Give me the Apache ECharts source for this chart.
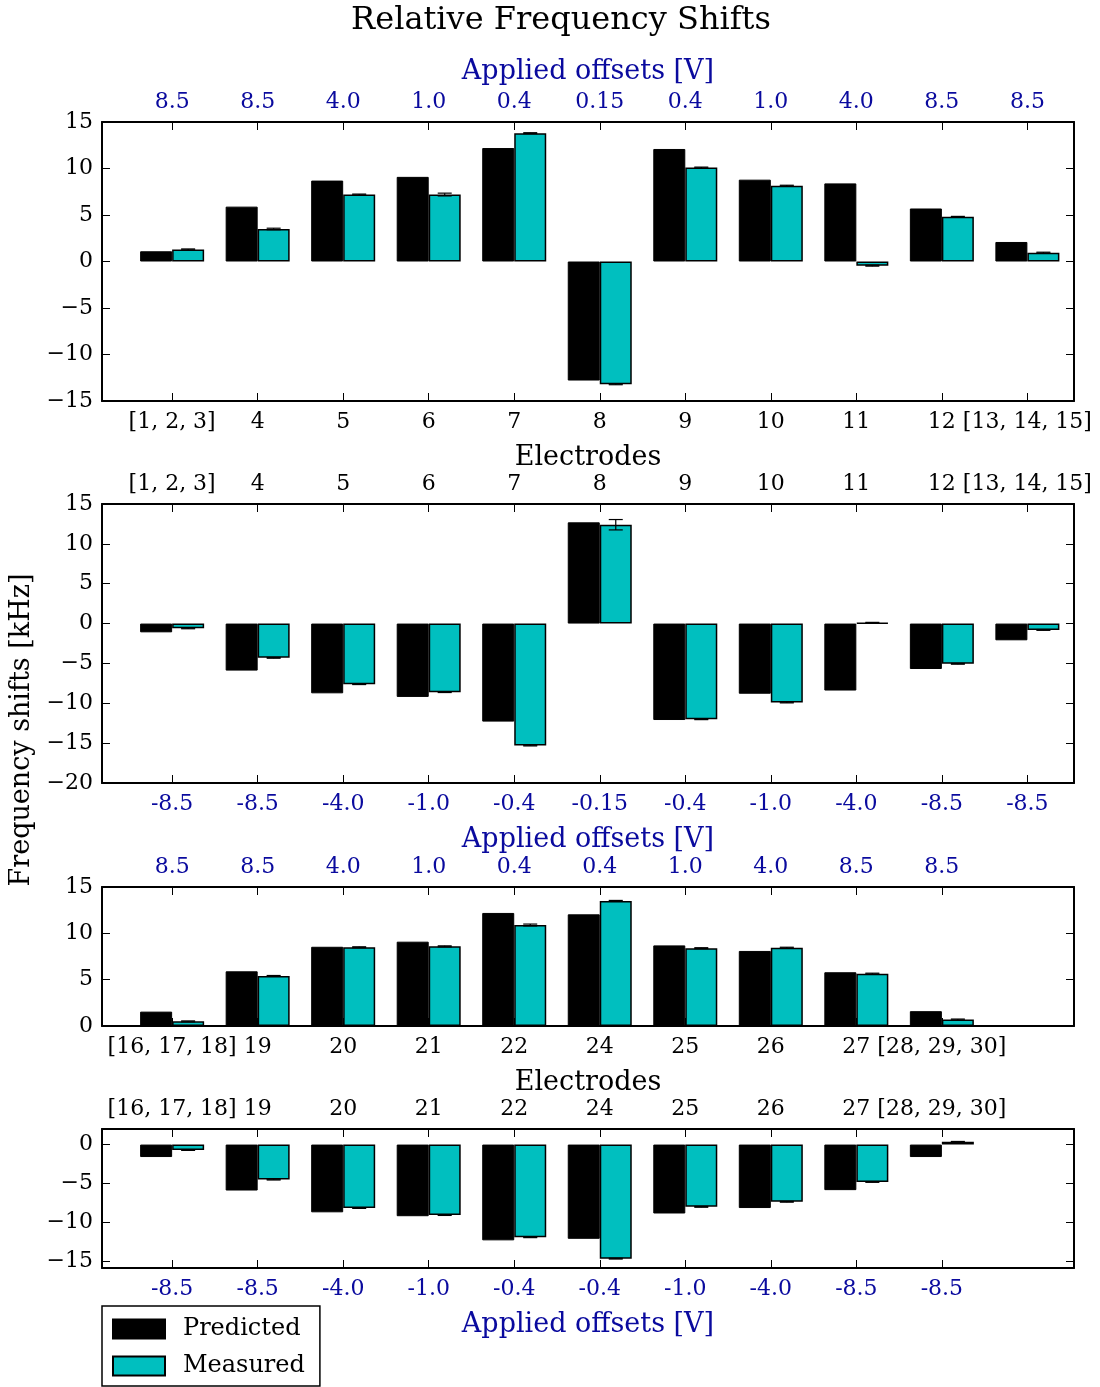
<!DOCTYPE html>
<html>
<head>
<meta charset="utf-8">
<script src="https://cdn.jsdelivr.net/npm/echarts@6/dist/echarts.min.js"></script>
<style>
  html, body { margin: 0; padding: 0; background: #fff; }
  #chart { width: 1100px; height: 1387px; }
</style>
</head>
<body>
<div id="chart"></div>
<script>
// Electrode groups (upper half: electrodes 1-15, lower half: 16-30)
const electrodesA = ['[1, 2, 3]', '4', '5', '6', '7', '8', '9', '10', '11', '12', '[13, 14, 15]'];
const electrodesB = ['[16, 17, 18]', '19', '20', '21', '22', '24', '25', '26', '27', '[28, 29, 30]'];

// Applied offset voltages per electrode group
const offsetsPosA = ['8.5', '8.5', '4.0', '1.0', '0.4', '0.15', '0.4', '1.0', '4.0', '8.5', '8.5'];
const offsetsNegA = ['-8.5', '-8.5', '-4.0', '-1.0', '-0.4', '-0.15', '-0.4', '-1.0', '-4.0', '-8.5', '-8.5'];
const offsetsPosB = ['8.5', '8.5', '4.0', '1.0', '0.4', '0.4', '1.0', '4.0', '8.5', '8.5'];
const offsetsNegB = ['-8.5', '-8.5', '-4.0', '-1.0', '-0.4', '-0.4', '-1.0', '-4.0', '-8.5', '-8.5'];

// Frequency shifts [kHz], positive offsets, electrodes 1-15
const predPosA = [1.1, 5.9, 8.7, 9.1, 12.2, -12.8, 12.1, 8.8, 8.4, 5.7, 2.1];
const measPosA = [1.3, 3.5, 7.2, 7.2, 13.8, -13.2, 10.1, 8.15, -0.45, 4.8, 0.95];
const errPosA  = [0.05, 0.08, 0.05, 0.15, 0.05, 0.05, 0.05, 0.05, 0.05, 0.05, 0.05];

// Negative offsets, electrodes 1-15
const predNegA = [-1.1, -5.9, -8.75, -9.2, -12.3, 12.7, -12.1, -8.8, -8.4, -5.7, -2.1];
const measNegA = [-0.6, -4.3, -7.6, -8.6, -15.3, 12.4, -12.0, -9.9, 0.1, -5.05, -0.8];
const errNegA  = [0.05, 0.05, 0.05, 0.05, 0.05, 0.65, 0.05, 0.05, 0.05, 0.05, 0.05];

// Positive offsets, electrodes 16-30
const predPosB = [1.55, 5.9, 8.55, 9.1, 12.2, 12.05, 8.7, 8.1, 5.8, 1.6];
const measPosB = [0.5, 5.4, 8.5, 8.6, 10.9, 13.5, 8.4, 8.45, 5.65, 0.7];
const errPosB  = [0.05, 0.05, 0.05, 0.05, 0.1, 0.05, 0.05, 0.05, 0.05, 0.05];

// Negative offsets, electrodes 16-30
const predNegB = [-1.6, -5.9, -8.7, -9.2, -12.3, -12.1, -8.85, -8.15, -5.85, -1.6];
const measNegB = [-0.7, -4.5, -8.15, -9.05, -11.9, -14.65, -8.0, -7.35, -4.8, 0.35];
const errNegB  = [0.05, 0.05, 0.05, 0.05, 0.05, 0.05, 0.05, 0.05, 0.05, 0.05];

// y tick values per panel
const yTicksPosA = [-15, -10, -5, 0, 5, 10, 15];
const yTicksNegA = [-20, -15, -10, -5, 0, 5, 10, 15];
const yTicksPosB = [0, 5, 10, 15];
const yTicksNegB = [-15, -10, -5, 0];

const FONT = 'DejaVu Serif';
const BLUE = '#0a0a9e';
const CYAN = '#00bfbf';
const BAR_W = 32;
const TICK_FS = 22;
const NAME_FS = 27;

const panels = [
  { top: 122, height: 279, ymin: -15, ymax: 15, yTicks: yTicksPosA,
    bottomLabels: electrodesA, bottomColor: '#000', bottomName: 'Electrodes', bottomNameColor: '#000',
    topLabels: offsetsPosA, topColor: BLUE, topName: 'Applied offsets [V]',
    pred: predPosA, meas: measPosA, err: errPosA },
  { top: 504, height: 279, ymin: -20, ymax: 15, yTicks: yTicksNegA,
    bottomLabels: offsetsNegA, bottomColor: BLUE, bottomName: 'Applied offsets [V]', bottomNameColor: BLUE,
    topLabels: electrodesA, topColor: '#000', topName: '',
    pred: predNegA, meas: measNegA, err: errNegA },
  { top: 887, height: 139, ymin: 0, ymax: 15, yTicks: yTicksPosB,
    bottomLabels: electrodesB, bottomColor: '#000', bottomName: 'Electrodes', bottomNameColor: '#000',
    topLabels: offsetsPosB, topColor: BLUE, topName: '',
    pred: predPosB, meas: measPosB, err: errPosB },
  { top: 1129, height: 139, ymin: -15.85, ymax: 2, yTicks: yTicksNegB,
    bottomLabels: offsetsNegB, bottomColor: BLUE, bottomName: 'Applied offsets [V]', bottomNameColor: BLUE,
    topLabels: electrodesB, topColor: '#000', topName: '',
    pred: predNegB, meas: measNegB, err: errNegB }
];

const X_MIN = -0.82;
const X_MAX = 10.545;

const frameLine = { show: true, onZero: false, lineStyle: { color: '#000', width: 2 } };
const tickStyle = (values) => ({ show: true, inside: true, length: 8, customValues: values,
  lineStyle: { color: '#000', width: 1 } });

const grid = [], xAxis = [], yAxis = [], series = [];

panels.forEach((p, i) => {
  grid.push({ left: 102, width: 972, top: p.top, height: p.height, containLabel: false });
  const idx = p.pred.map((_, k) => k);

  // bottom x axis
  xAxis.push({
    type: 'value', gridIndex: i, position: 'bottom', min: X_MIN, max: X_MAX,
    axisLine: frameLine, axisTick: tickStyle(idx), splitLine: { show: false },
    axisLabel: { customValues: idx, formatter: (v) => p.bottomLabels[Math.round(v)] ?? '',
      color: p.bottomColor, fontFamily: FONT, fontSize: TICK_FS, margin: 10, hideOverlap: false },
    name: p.bottomName, nameLocation: 'middle', nameGap: 43,
    nameTextStyle: { fontFamily: FONT, fontSize: NAME_FS, color: p.bottomNameColor }
  });
  // top x axis
  xAxis.push({
    type: 'value', gridIndex: i, position: 'top', min: X_MIN, max: X_MAX,
    axisLine: frameLine, axisTick: tickStyle(idx), splitLine: { show: false },
    axisLabel: { customValues: idx, formatter: (v) => p.topLabels[Math.round(v)] ?? '',
      color: p.topColor, fontFamily: FONT, fontSize: TICK_FS, margin: 9, hideOverlap: false },
    name: p.topName, nameLocation: 'middle', nameGap: 37,
    nameTextStyle: { fontFamily: FONT, fontSize: NAME_FS, color: BLUE }
  });
  // left y axis
  yAxis.push({
    type: 'value', gridIndex: i, position: 'left', min: p.ymin, max: p.ymax,
    axisLine: frameLine, axisTick: tickStyle(p.yTicks), splitLine: { show: false },
    axisLabel: { customValues: p.yTicks, formatter: (v) => String(v).replace('-', '\u2212'),
      color: '#000', fontFamily: FONT, fontSize: TICK_FS, margin: 9 }
  });
  // right y axis (ticks only)
  yAxis.push({
    type: 'value', gridIndex: i, position: 'right', min: p.ymin, max: p.ymax,
    axisLine: frameLine, axisTick: tickStyle(p.yTicks), splitLine: { show: false },
    axisLabel: { show: false }
  });

  const xa = i * 2, ya = i * 2;
  series.push({
    name: 'Predicted', type: 'bar', xAxisIndex: xa, yAxisIndex: ya,
    barWidth: BAR_W, barGap: '0%',
    itemStyle: { color: '#000', borderColor: '#000', borderWidth: 1 },
    data: p.pred.map((v, k) => [k, v])
  });
  series.push({
    name: 'Measured', type: 'bar', xAxisIndex: xa, yAxisIndex: ya,
    barWidth: BAR_W, barGap: '0%',
    itemStyle: { color: CYAN, borderColor: '#000', borderWidth: 1.5 },
    data: p.meas.map((v, k) => [k, v])
  });
  // error bars on the measured bars
  series.push({
    name: 'Measured error', type: 'custom', xAxisIndex: xa, yAxisIndex: ya, z: 5,
    encode: { x: 0, y: 1 },
    data: p.meas.map((v, k) => [k, v, p.err[k]]),
    renderItem: (params, api) => {
      const x = api.value(0), v = api.value(1), e = api.value(2);
      const hi = api.coord([x, v + e]);
      const lo = api.coord([x, v - e]);
      const cx = hi[0] + BAR_W / 2;
      const cap = 7;
      const st = { stroke: '#000', lineWidth: 1.2 };
      return { type: 'group', children: [
        { type: 'line', shape: { x1: cx, y1: hi[1], x2: cx, y2: lo[1] }, style: st },
        { type: 'line', shape: { x1: cx - cap, y1: hi[1], x2: cx + cap, y2: hi[1] }, style: st },
        { type: 'line', shape: { x1: cx - cap, y1: lo[1], x2: cx + cap, y2: lo[1] }, style: st }
      ]};
    }
  });
});

const chart = echarts.init(document.getElementById('chart'), null, { renderer: 'canvas' });
chart.setOption({
  animation: false,
  backgroundColor: '#fff',
  title: {
    text: 'Relative Frequency Shifts', left: 556, top: 0, textAlign: 'center',
    textStyle: { fontFamily: FONT, fontSize: 32, fontWeight: 'normal', color: '#000' }
  },
  legend: {
    data: ['Predicted', 'Measured'], orient: 'vertical', left: 102, top: 1306,
    height: 64, padding: [11, 15, 8, 10], itemGap: 13, itemWidth: 52, itemHeight: 19,
    borderColor: '#000', borderWidth: 1.5, borderRadius: 0, icon: 'rect',
    textStyle: { fontFamily: FONT, fontSize: 24, color: '#000', padding: [0, 0, 0, 13] }
  },
  graphic: [{
    type: 'text', x: 22, y: 730, rotation: Math.PI / 2,
    style: { text: 'Frequency shifts [kHz]', fontFamily: FONT, fontSize: NAME_FS, fill: '#000',
      textAlign: 'center', textVerticalAlign: 'middle' }
  }],
  grid, xAxis, yAxis, series
});
</script>
</body>
</html>
